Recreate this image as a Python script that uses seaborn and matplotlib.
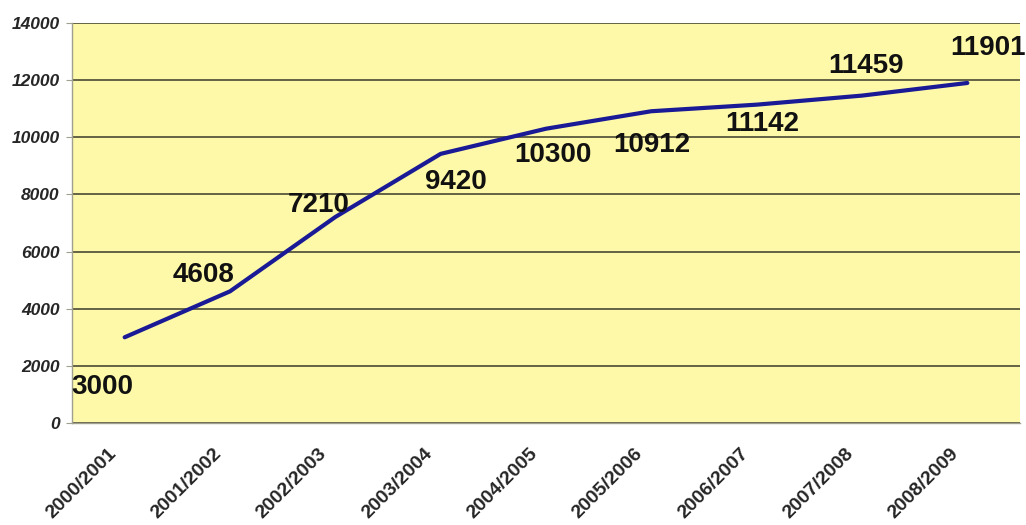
import numpy as np
import pandas as pd
import seaborn as sns
import matplotlib
matplotlib.use("Agg")
import matplotlib.pyplot as plt
from matplotlib.transforms import ScaledTranslation

# --- data ---
seasons = ["2000/2001", "2001/2002", "2002/2003", "2003/2004", "2004/2005",
           "2005/2006", "2006/2007", "2007/2008", "2008/2009"]
values = [3000, 4608, 7210, 9420, 10300, 10912, 11142, 11459, 11901]
y_ticks = [0, 2000, 4000, 6000, 8000, 10000, 12000, 14000]

# label offsets in points (placement of the value labels)
label_offsets = [(-16, -36), (-19, 12), (-12, 9), (11, -20), (5, -19),
                 (0, -24), (4, -14), (3, 21), (15, 25)]

df = pd.DataFrame({"season": seasons, "value": values})

sns.set_style("white")
plt.rcParams["font.family"] = ["Liberation Sans", "DejaVu Sans"]

fig = plt.figure(figsize=(10.26, 5.25), dpi=100)
ax = fig.add_axes([72 / 1026, 102 / 525, 948 / 1026, 400 / 525])
ax.set_facecolor("#fef9a8")

sns.lineplot(data=df, x="season", y="value", ax=ax, color="#1a1a96",
             linewidth=3, sort=False)

ax.set_xlim(-0.5, len(seasons) - 0.5)
ax.set_ylim(0, 14000)
ax.set_yticks(y_ticks)
ax.set_yticklabels([str(t) for t in y_ticks], fontsize=12.5,
                   fontweight="bold", style="italic")
ax.yaxis.grid(True, color="#3a3a2a", linewidth=1.1)
ax.set_axisbelow(True)

# ticks at category boundaries, labels at centres
ax.set_xticks(np.arange(len(seasons)))
ax.set_xticks(np.arange(len(seasons) + 1) - 0.5, minor=True)
ax.tick_params(axis="x", which="major", length=0, pad=16)
ax.tick_params(axis="x", which="minor", length=5, color="#a0a090",
               direction="out")
ax.tick_params(axis="y", length=4, color="#a0a090", pad=5, left=True)
for lab in ax.get_xticklabels():
    lab.set_rotation(45)
    lab.set_ha("right")
    lab.set_va("top")
    lab.set_rotation_mode("anchor")
    lab.set_fontsize(14)
    lab.set_fontweight("bold")
    lab.set_transform(lab.get_transform() +
                      ScaledTranslation(-0.17, 0, fig.dpi_scale_trans))

ax.set_xlabel("")
ax.set_ylabel("")
for side in ["top", "right"]:
    ax.spines[side].set_visible(False)
for side in ["left", "bottom"]:
    ax.spines[side].set_color("#a0a090")
    ax.spines[side].set_linewidth(1)

for i, (v, off) in enumerate(zip(values, label_offsets)):
    ax.annotate(str(v), (i, v), xytext=off, textcoords="offset points",
                ha="center", va="center", fontsize=20, fontweight="bold",
                color="#111111", annotation_clip=False)

fig.savefig("out.png", dpi=100)
